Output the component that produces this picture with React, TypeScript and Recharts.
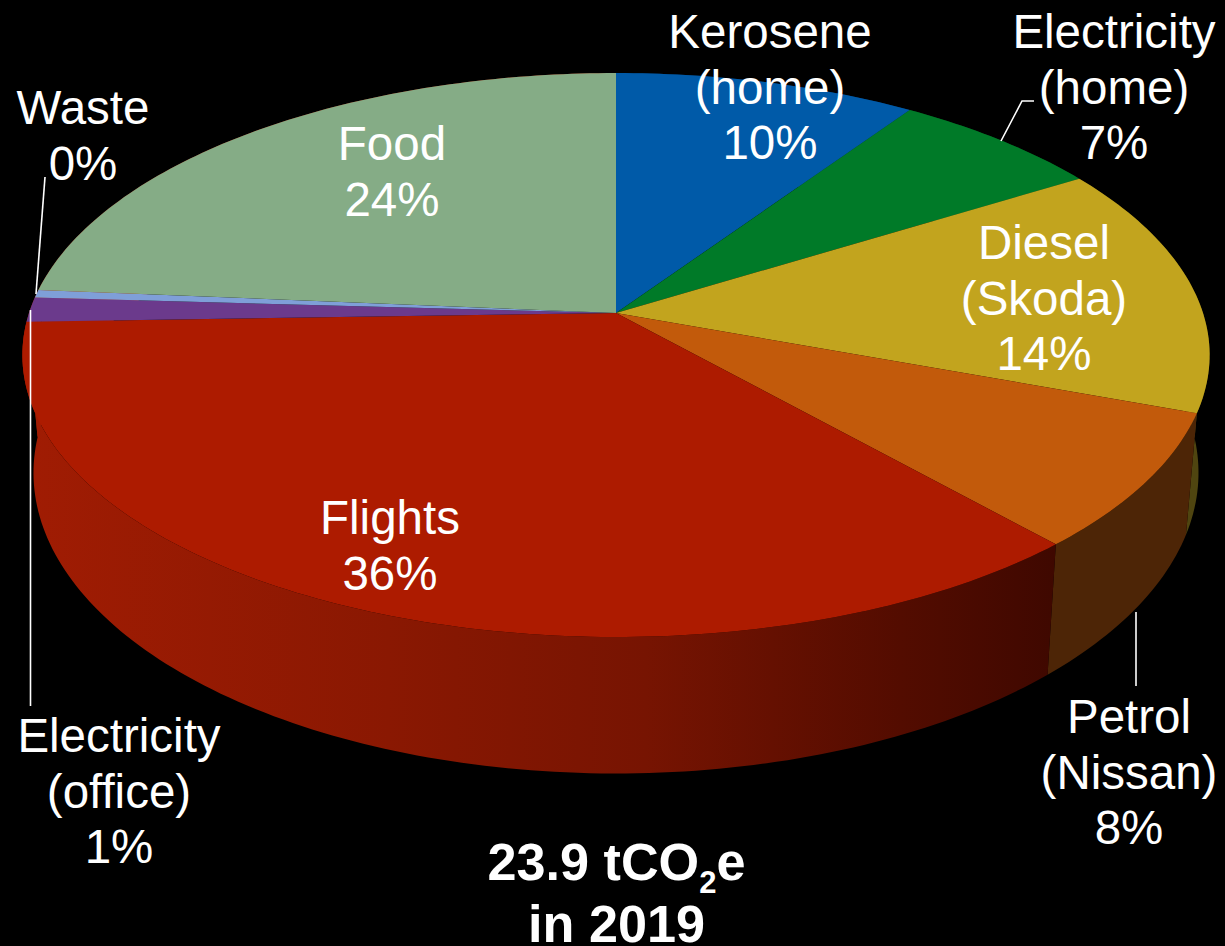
import React from "react";
import { PieChart, Pie } from "recharts";

const categories = ["Kerosene (home)", "Electricity (home)", "Diesel (Skoda)", "Petrol (Nissan)", "Flights", "Electricity (office)", "Waste", "Food"];
const shares = [9.5, 6.7, 14.4, 7.8, 36.1, 1.4, 0.45, 23.65];
const labelLines = [["Kerosene", "(home)"], ["Electricity", "(home)"], ["Diesel", "(Skoda)"], ["Petrol", "(Nissan)"], ["Flights"], ["Electricity", "(office)"], ["Waste"], ["Food"]];
const topColors = ["#005aa8", "#007a28", "#c2a41e", "#c25a0b", "#ad1b00", "#6b3a8c", "#7f9fd8", "#85ac86"];
const wallColors = ["#00305a", "#003f14", "#4f4510", "#4d2506", "url(#flightsWall)", "#a01c03", "#a01c03", "#a01c03"];

const rows = categories.map((name, i) => ({ name, value: shares[i], lines: labelLines[i] }));

// layout of the tilted pie
const CX = 616;
const CY = 313;
const TILT = 0.149;
const TOP = { a: 587, b: 275.7, y: CY };
const BOTTOM = { a: 576, b: 294, y: 428 };
// label placement: centre x, first baseline
const labelPos = [[770, 48], [1114, 48], [1044, 259], [1129, 733], [390, 534], [119, 752], [83, 124], [392, 160]];
const LINE = 55.5;
const FONT = "'Liberation Sans', Arial, sans-serif";
const leaders = [
  null,
  "M1001 141 L1022 101 L1034 101",
  null,
  "M1136 612 L1136 686",
  null,
  "M30.5 310 L30.5 706",
  "M36 294 L45 177",
  null,
];

function project(angle: number, s: { a: number; b: number; y: number }) {
  const t = (angle * Math.PI) / 180;
  const u = Math.cos(t);
  const v = Math.sin(t);
  const d = 1 + TILT * v;
  return [CX + (s.a * u) / d, s.y - (s.b * v) / d];
}

function arc(start: number, end: number, s: { a: number; b: number; y: number }) {
  const n = Math.max(2, Math.ceil(Math.abs(start - end)));
  const out: number[][] = [];
  for (let i = 0; i <= n; i++) out.push(project(start + ((end - start) * i) / n, s));
  return out;
}

const toPath = (p: number[][]) => p.map((q, i) => `${i ? "L" : "M"}${q[0].toFixed(2)} ${q[1].toFixed(2)}`).join(" ") + " Z";

function TopSlice(props: any) {
  const pts = [[CX, CY], ...arc(props.startAngle, props.endAngle, TOP)];
  return <path d={toPath(pts)} fill={topColors[props.index]} stroke="none" />;
}

function WallSlice(props: any) {
  const pts = [...arc(props.startAngle, props.endAngle, TOP), ...arc(props.endAngle, props.startAngle, BOTTOM)];
  return (
    <g>
      {props.index === 4 && (
        <defs>
          <linearGradient id="flightsWall" gradientUnits="userSpaceOnUse" x1="30" y1="0" x2="1055" y2="0">
            <stop offset="0" stopColor="#a01c03" />
            <stop offset="0.35" stopColor="#8a1802" />
            <stop offset="0.6" stopColor="#771402" />
            <stop offset="0.85" stopColor="#530c00" />
            <stop offset="1" stopColor="#3f0800" />
          </linearGradient>
        </defs>
      )}
      <path d={toPath(pts)} fill={wallColors[props.index]} stroke="none" />
    </g>
  );
}

function SliceLabel(props: any) {
  const i = props.index;
  const [x, y] = labelPos[i];
  const lines = [...labelLines[i], `${Math.round(shares[i])}%`];
  return (
    <g>
      {leaders[i] && <path d={leaders[i] as string} fill="none" stroke="#ffffff" strokeWidth={1.6} />}
      <text x={x} y={y} textAnchor="middle" fill="#ffffff" fontFamily={FONT} fontSize={47.5}>
        {lines.map((l, k) => (
          <tspan key={k} x={x} y={y + k * LINE}>{l}</tspan>
        ))}
      </text>
    </g>
  );
}

export default function App() {
  return (
    <div style={{ position: "absolute", left: 0, top: 0, width: 1225, height: 946, background: "#000", overflow: "hidden" }}>
      <PieChart width={1225} height={946} margin={{ top: 0, right: 0, bottom: 0, left: 0 }}>
        <Pie data={rows} dataKey="value" cx={CX} cy={CY} outerRadius={300} startAngle={90} endAngle={-270} stroke="none" shape={WallSlice} isAnimationActive={false} />
        <Pie data={rows} dataKey="value" cx={CX} cy={CY} outerRadius={300} startAngle={90} endAngle={-270} stroke="none" shape={TopSlice} label={SliceLabel} labelLine={false} isAnimationActive={false} />
      </PieChart>
      <svg width={1225} height={946} style={{ position: "absolute", left: 0, top: 0, pointerEvents: "none" }}>
        <text x={616.5} y={880} textAnchor="middle" fill="#fff" fontFamily={FONT} fontWeight="bold" fontSize={52.2}>
          23.9 tCO<tspan fontSize={31} dy={13}>2</tspan><tspan dy={-13}>e</tspan>
        </text>
        <text x={616.5} y={942} textAnchor="middle" fill="#fff" fontFamily={FONT} fontWeight="bold" fontSize={52.2}>in 2019</text>
      </svg>
    </div>
  );
}
